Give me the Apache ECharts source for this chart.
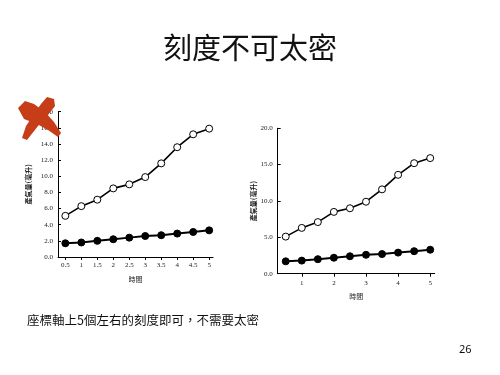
<!DOCTYPE html>
<html lang="zh-Hant-TW">
<head>
<meta charset="utf-8">
<script src="https://cdn.jsdelivr.net/npm/echarts@6/dist/echarts.min.js"></script>
<style>
html,body{margin:0;padding:0;background:#fff;}
#c{width:500px;height:375px;}
</style>
</head>
<body>
<div id="c" lang="zh-Hant-TW"></div>
<script>
const titleText = '刻度不可太密';
const noteText = '座標軸上5個左右的刻度即可，不需要太密';
const pageNo = '26';
const yName = '產氣量(毫升)';
const xName = '時間';
const times = [0.5, 1, 1.5, 2, 2.5, 3, 3.5, 4, 4.5, 5];
const openValues = [5.1, 6.3, 7.1, 8.5, 9.0, 9.9, 11.6, 13.6, 15.2, 15.9];
const filledValues = [1.7, 1.8, 2.0, 2.2, 2.4, 2.6, 2.7, 2.9, 3.1, 3.3];
const leftXTicks = [0.5, 1, 1.5, 2, 2.5, 3, 3.5, 4, 4.5, 5];
const rightXTicks = [1, 2, 3, 4, 5];

const pairs = vals => times.map((t, i) => [t, vals[i]]);
const lblFont = 'Liberation Serif';
const cjk = 'Noto Sans CJK TC';

function xAxis(gi, min, max, ticks, labelMargin) {
  return {
    type: 'value', gridIndex: gi, min: min, max: max,
    name: xName, nameLocation: 'middle', nameGap: 19,
    nameTextStyle: {fontFamily: cjk, fontSize: 7, color: '#222'},
    splitLine: {show: false},
    axisLine: {lineStyle: {color: '#000', width: 1}},
    axisTick: {show: true, inside: false, length: 3, customValues: ticks, lineStyle: {color: '#000'}},
    axisLabel: {customValues: ticks, fontFamily: lblFont, fontSize: 7, color: '#222', margin: labelMargin,
      formatter: v => String(v)}
  };
}
function yAxis(gi, max, interval, nameGap) {
  return {
    type: 'value', gridIndex: gi, min: 0, max: max, interval: interval,
    name: yName, nameLocation: 'middle', nameGap: nameGap, nameRotate: 90,
    nameTextStyle: {fontFamily: cjk, fontSize: 7, fontWeight: 'bold', color: '#222'},
    splitLine: {show: false},
    axisLine: {show: true, lineStyle: {color: '#000', width: 1}},
    axisTick: {show: true, inside: true, length: 3, lineStyle: {color: '#000'}},
    axisLabel: {fontFamily: lblFont, fontSize: 7, color: '#222', margin: 5,
      formatter: v => v.toFixed(1)}
  };
}
function series(gi, vals, filled) {
  return {
    type: 'line', xAxisIndex: gi, yAxisIndex: gi, data: pairs(vals),
    symbol: 'circle', symbolSize: 7, showSymbol: true,
    lineStyle: {color: '#000', width: filled ? 2 : 1.6},
    itemStyle: {color: filled ? '#000' : '#fff', borderColor: '#000', borderWidth: 1},
    z: 3, animation: false
  };
}

const chart = echarts.init(document.getElementById('c'), null, {renderer: 'canvas'});
chart.setOption({
  backgroundColor: '#fff',
  animation: false,
  title: {text: titleText, left: 'center', top: 28,
    textStyle: {fontFamily: cjk, fontSize: 29, fontWeight: 'normal', color: '#111'}},
  grid: [
    {left: 58, top: 111.7, width: 155, height: 145.3},
    {left: 277.7, top: 128.3, width: 157, height: 145.4}
  ],
  xAxis: [xAxis(0, 0.27, 5.12, leftXTicks, 5), xAxis(1, 0.25, 5.14, rightXTicks, 6)],
  yAxis: [yAxis(0, 18, 2, 26), yAxis(1, 20, 5, 13)],
  series: [
    series(0, openValues, false), series(0, filledValues, true),
    series(1, openValues, false), series(1, filledValues, true)
  ],
  graphic: [
    {type: 'text', left: 27, top: 314, style: {text: noteText, fontFamily: cjk, fontSize: 12.5, fill: '#111'}},
    {type: 'text', left: 459, top: 344, style: {text: pageNo, fontFamily: 'Noto Sans', fontSize: 11, fill: '#111'}},
    {type: 'polygon', z: 100, shape: {points: [[18,108],[25,101],[34,104],[45,112],[54,122],[61,133],[58,137],[48,130],[37,124],[24,119]]},
      style: {fill: '#c63d17'}},
    {type: 'polygon', z: 100, shape: {points: [[47,97],[54,99],[55,106],[48,115],[38,126],[27,140],[22,138],[26,126],[34,114],[41,104]]},
      style: {fill: '#c63d17'}}
  ]
});
</script>
</body>
</html>
